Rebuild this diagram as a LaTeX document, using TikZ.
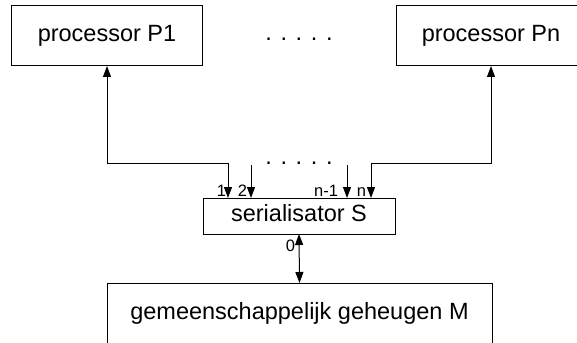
\documentclass[tikz,border=0pt]{standalone}
\usepackage{fontspec}
\setmainfont{Liberation Sans}
\usetikzlibrary{arrows.meta, positioning}

\begin{document}
\begin{tikzpicture}[% styles used in image code
        x = 1pt, y = -1pt,
        > = {Triangle[length=11pt, width=8pt]}, % defined in arrows.meta
line width = 1pt,
unit/.style = {draw, line width=1pt,
               inner sep=0pt, outer sep=0pt,
               font=\fontsize{23.5}{28}\selectfont,
               text height=17.6pt, text depth=5.9pt},
lbl/.style  = {inner sep=0pt, outer sep=0pt,
               font=\fontsize{16.5}{20}\selectfont},
dots/.style = {inner sep=0pt, outer sep=0pt,
               font=\fontsize{23.5}{28}\selectfont}
                        ]
	\useasboundingbox (0,0) rectangle (577,342);

	% processors
	\node[unit, minimum width=191pt, minimum height=60pt] (p1) at (107,36) {processor P1};
	\node[unit, minimum width=190pt, minimum height=60pt] (pn) at (491,36) {processor Pn};
	\node[dots, anchor=base] (dtop) at (299,41) {. . . . .};

	% serialisator and memory
	\node[unit, minimum width=192pt, minimum height=36pt] (ser) at (299,216) {serialisator S};
	\node[unit, minimum width=385pt, minimum height=62pt] (mem) at (299.5,314) {gemeenschappelijk geheugen M};

	% inputs of the serialisator
	\coordinate (c1)  at (228,163);
	\coordinate (c2)  at (251,165);
	\coordinate (cn1) at (347,165);
	\coordinate (cn)  at (371,163);
	\node[dots, anchor=base] (dmid) at (299,164) {. . . . .};

	\draw [<->] (p1.south) |- (c1) -- (c1 |- ser.north);
	\draw [->]  (c2)  -- (c2 |- ser.north);
	\draw [->]  (cn1) -- (cn1 |- ser.north);
	\draw [<->] (pn.south) |- (cn) -- (cn |- ser.north);
	\draw [<->] (ser.south) -- (mem.north);

	% port numbers
	\node[lbl, anchor=base east] (l1)  at (226,196) {1};
	\node[lbl, anchor=base east] (l2)  at (247,196) {2};
	\node[lbl, anchor=base east] (ln1) at (338,196) {n-1};
	\node[lbl, anchor=base east] (ln)  at (366,196) {n};
	\node[lbl, anchor=base east] (l0)  at (295,251) {0};
\end{tikzpicture}
\end{document}
